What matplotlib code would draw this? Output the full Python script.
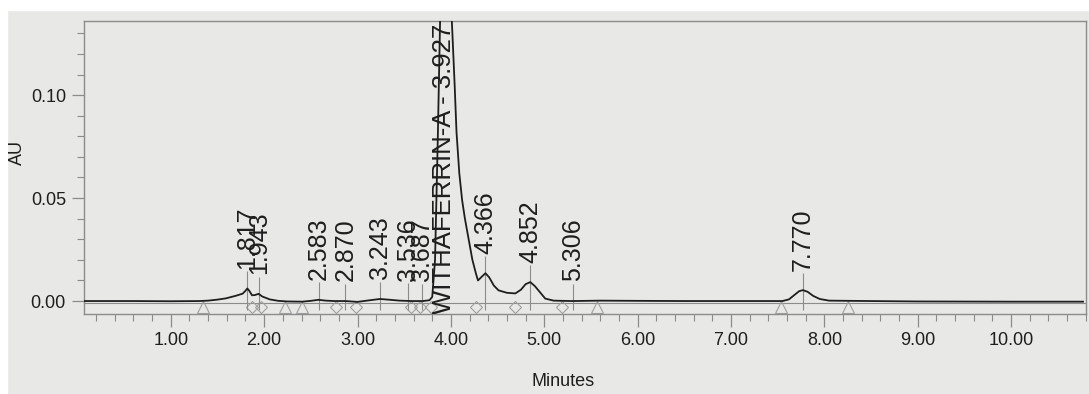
import numpy as np
import matplotlib.pyplot as plt
from matplotlib.patches import Rectangle

# %% data

trace_t = [0.07, 0.60, 1.00, 1.30, 1.40, 1.50, 1.59, 1.70, 1.77, 1.80, 1.82, 1.84,
           1.87, 1.90, 1.94, 1.98, 2.06, 2.15, 2.25, 2.41, 2.50, 2.58, 2.66, 2.75,
           2.87, 3.00, 3.10, 3.24, 3.35, 3.45, 3.58, 3.70, 3.77, 3.80, 3.83, 3.86,
           3.89, 3.93, 3.97, 4.00, 4.01, 4.04, 4.06, 4.09, 4.12, 4.15, 4.19, 4.23,
           4.27, 4.29, 4.33, 4.37, 4.41, 4.46, 4.51, 4.60, 4.69, 4.75, 4.80, 4.85,
           4.90, 4.95, 5.01, 5.10, 5.30, 5.60, 6.00, 6.50, 7.00, 7.55, 7.62, 7.68,
           7.73, 7.77, 7.82, 7.88, 7.95, 8.05, 8.50, 9.00, 10.00, 10.77]
trace_au = [0.0000, 0.0000, -0.0001, 0.0000, 0.0002, 0.0007, 0.0013, 0.0026, 0.0036, 0.0050, 0.0061, 0.0050,
            0.0028, 0.0029, 0.0035, 0.0022, 0.0008, 0.0001, -0.0002, -0.0003, 0.0001, 0.0006, 0.0002, 0.0000,
            0.0000, -0.0004, 0.0002, 0.0010, 0.0006, 0.0002, 0.0000, 0.0000, 0.0004, 0.0020, 0.0200, 0.0800,
            0.1500, 0.1900, 0.1700, 0.1450, 0.1360, 0.1050, 0.0820, 0.0620, 0.0490, 0.0400, 0.0300, 0.0200,
            0.0130, 0.0100, 0.0118, 0.0135, 0.0115, 0.0075, 0.0052, 0.0040, 0.0037, 0.0055, 0.0082, 0.0092,
            0.0072, 0.0045, 0.0012, 0.0002, 0.0000, 0.0002, 0.0001, 0.0000, 0.0000, 0.0000, 0.0008, 0.0030,
            0.0048, 0.0053, 0.0045, 0.0025, 0.0010, 0.0002, 0.0000, -0.0002, -0.0003, -0.0003]

peak_rt = [1.817, 1.943, 2.583, 2.870, 3.243, 3.536, 3.687, 4.366, 4.852, 5.306, 7.770]
main_rt = 3.927
main_name = "WITHAFERRIN-A"

mark_tri = [1.34, 2.22, 2.41, 5.56, 7.53, 8.25]
mark_dia = [1.87, 1.97, 2.77, 2.98, 3.57, 3.67, 3.79, 4.27, 4.69, 5.19]

# %% plot

plt.rcParams["font.family"] = ["Liberation Sans", "DejaVu Sans"]

paper = "#e8e8e6"
ink = "#1e1e1e"
grey = "#8c8c8c"

fig = plt.figure(figsize=(10.89, 3.94), dpi=100, facecolor=paper)
# white strips of the photo border
fig.patches.append(Rectangle((0, 0.975), 1, 0.03, transform=fig.transFigure, color="white", zorder=-1))
fig.patches.append(Rectangle((0, 0), 0.0065, 1, transform=fig.transFigure, color="white", zorder=-1))

ax = fig.add_axes([0.0771, 0.203, 0.92, 0.7437])
ax.set_facecolor(paper)
ax.set_xlim(0.07, 10.77)
ax.set_ylim(-0.0063, 0.136)

# integration baseline + trace
ax.axhline(-0.0008, color=grey, lw=0.8, zorder=1)
ax.plot(trace_t, trace_au, color=ink, lw=1.3, zorder=3)

# integration marks
ax.plot(mark_tri, [-0.0028] * len(mark_tri), ls="none", marker="^", ms=8,
        mfc="none", mec="#a0a0a0", mew=0.8, zorder=2)
ax.plot(mark_dia, [-0.0028] * len(mark_dia), ls="none", marker="D", ms=6,
        mfc="none", mec="#a0a0a0", mew=0.8, zorder=2)

# peak labels
for rt in peak_rt:
    h = np.interp(rt, trace_t, trace_au)
    base = max(h, 0) + 0.0095
    ax.vlines(rt, -0.0045, base - 0.001, color=grey, lw=0.8, zorder=2)
    ax.text(rt, base, f"{rt:.3f}", rotation=90, ha="center", va="bottom",
            fontsize=18, color=ink, zorder=4)

ax.text(main_rt, -0.0063, f"{main_name} - {main_rt:.3f}", rotation=90, ha="center",
        va="bottom", fontsize=18.5, color=ink, zorder=4, clip_on=True)

# axes styling
for s in ax.spines.values():
    s.set_color(grey)
    s.set_linewidth(1.0)

ax.set_xticks(np.arange(1, 11, 1.0))
ax.set_xticklabels([f"{v:.2f}" for v in np.arange(1, 11, 1.0)])
ax.set_xticks(np.arange(0.2, 10.8, 0.2), minor=True)
ax.set_yticks([0.0, 0.05, 0.10])
ax.set_yticklabels(["0.00", "0.05", "0.10"])
ax.set_yticks(np.arange(0.0, 0.136, 0.01), minor=True)

ax.tick_params(which="major", length=9, width=0.9, color=grey, labelsize=13, labelcolor=ink, pad=4)
ax.tick_params(which="minor", length=5, width=0.8, color=grey)

ax.set_xlabel("Minutes", fontsize=13, color=ink)
ax.xaxis.set_label_coords(0.478, -0.2)
ax.set_ylabel("AU", fontsize=13, color=ink)
ax.yaxis.set_label_coords(-0.058, 0.55)

fig.savefig("out.png", dpi=100, facecolor=paper)
